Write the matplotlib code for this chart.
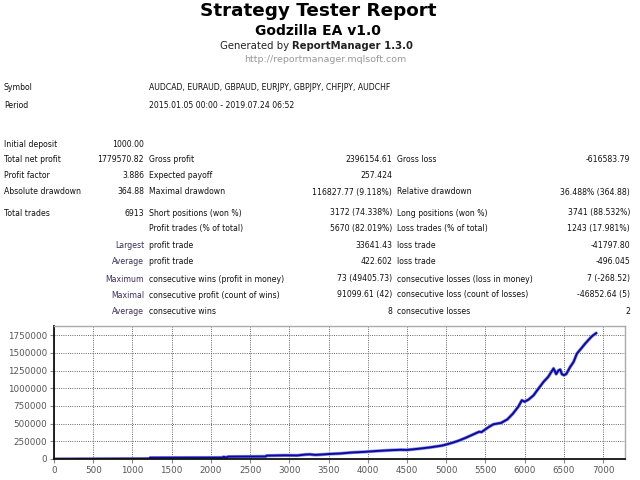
import matplotlib
matplotlib.use("Agg")
import matplotlib.pyplot as plt
from matplotlib.ticker import FuncFormatter, MultipleLocator

# ── report data ────────────────────────────────────────────────
title = "Strategy Tester Report"
ea_name = "Godzilla EA v1.0"
symbols = "AUDCAD, EURAUD, GBPAUD, EURJPY, GBPJPY, CHFJPY, AUDCHF"
period = "2015.01.05 00:00 - 2019.07.24 06:52"

# rows: (y px, col1 label, col1 value, col2 label, col2 value, col3 label, col3 value)
rows = [
    (145, "Initial deposit", "1000.00", "", "", "", ""),
    (160, "Total net profit", "1779570.82", "Gross profit", "2396154.61", "Gross loss", "-616583.79"),
    (176, "Profit factor", "3.886", "Expected payoff", "257.424", "", ""),
    (192, "Absolute drawdown", "364.88", "Maximal drawdown", "116827.77 (9.118%)", "Relative drawdown", "36.488% (364.88)"),
    (213, "Total trades", "6913", "Short positions (won %)", "3172 (74.338%)", "Long positions (won %)", "3741 (88.532%)"),
    (229, "", "", "Profit trades (% of total)", "5670 (82.019%)", "Loss trades (% of total)", "1243 (17.981%)"),
]
sub_rows = [
    (246, "Largest", "profit trade", "33641.43", "loss trade", "-41797.80"),
    (262, "Average", "profit trade", "422.602", "loss trade", "-496.045"),
    (279, "Maximum", "consecutive wins (profit in money)", "73 (49405.73)", "consecutive losses (loss in money)", "7 (-268.52)"),
    (295, "Maximal", "consecutive profit (count of wins)", "91099.61 (42)", "consecutive loss (count of losses)", "-46852.64 (5)"),
    (311, "Average", "consecutive wins", "8", "consecutive losses", "2"),
]

# balance curve
trades = [0, 1220, 1225, 2150, 2160, 2200, 2220, 2700, 2710, 2950, 3100, 3200,
          3260, 3330, 3400, 3500, 3650, 3800, 3950, 4100, 4300, 4420, 4500,
          4650, 4800, 4950, 5050, 5150, 5250, 5350, 5420, 5450, 5540, 5600,
          5700, 5780, 5850, 5920, 5965, 6000, 6050, 6114, 6180, 6241, 6300,
          6369, 6390, 6403, 6430, 6454, 6475, 6500, 6530, 6580, 6624, 6667,
          6720, 6773, 6820, 6858, 6913]
balance = [1000, 5000, 18000, 20000, 30000, 22000, 33000, 36000, 47000, 52000,
           50000, 62000, 66000, 58000, 62000, 70000, 78000, 92000, 100000,
           112000, 125000, 130000, 128000, 145000, 165000, 190000, 220000,
           255000, 300000, 350000, 385000, 380000, 450000, 490000, 510000,
           560000, 640000, 740000, 830000, 810000, 840000, 900000, 1000000,
           1090000, 1160000, 1280000, 1230000, 1200000, 1250000, 1265000,
           1200000, 1185000, 1200000, 1300000, 1372000, 1490000, 1560000,
           1632000, 1690000, 1735000, 1779570]

# ── layout helpers ─────────────────────────────────────────────
W, H = 640, 480
FONT = "DejaVu Sans"
FS = 5.6
TXT, SUB, GREY = "#111111", "#3b2d5a", "#999999"

fig = plt.figure(figsize=(W / 100, H / 100), dpi=100)
fig.patch.set_facecolor("white")

def put(x, y, s, ha="left", **kw):
    kw.setdefault("fontsize", FS)
    kw.setdefault("color", TXT)
    kw.setdefault("family", FONT)
    fig.text(x / W, 1 - y / H, s, ha=ha, va="center", **kw)

# header
put(318, 11, title, ha="center", fontsize=13.2, fontweight="bold", color="black")
put(318, 31, ea_name, ha="center", fontsize=10.0, fontweight="bold", color="black")
put(292, 46, "Generated by ", ha="right", fontsize=7.3, color="#222222")
put(292, 46, "ReportManager 1.3.0", fontsize=7.3, fontweight="bold", color="#222222")
put(325, 60, "http://reportmanager.mqlsoft.com", ha="center", fontsize=6.8, color=GREY)

put(4, 88, "Symbol")
put(149, 88, symbols)
put(4, 105, "Period")
put(149, 105, period)

for y, l1, v1, l2, v2, l3, v3 in rows:
    put(4, y, l1)
    put(144, y, v1, ha="right")
    put(149, y, l2)
    put(392, y, v2, ha="right")
    put(397, y, l3)
    put(630, y, v3, ha="right")

for y, lead, l2, v2, l3, v3 in sub_rows:
    put(144, y, lead, ha="right", color=SUB)
    put(149, y, l2)
    put(392, y, v2, ha="right")
    put(397, y, l3)
    put(630, y, v3, ha="right")

# ── balance chart ──────────────────────────────────────────────
ax = fig.add_axes([54 / W, 1 - 459 / H, (625 - 54) / W, (459 - 326) / H])
ax.plot(trades, balance, color="#8f8fd8", lw=2.4, solid_capstyle="round")
ax.plot(trades, balance, color="#0a0aa8", lw=1.4)
ax.set_xlim(0, 7280)
ax.set_ylim(0, 1880000)
ax.xaxis.set_major_locator(MultipleLocator(500))
ax.yaxis.set_major_locator(MultipleLocator(250000))
ax.yaxis.set_major_formatter(FuncFormatter(lambda v, p: f"{int(v)}"))
ax.grid(True, color="#666666", linestyle=(0, (1.0, 1.3)), linewidth=0.7)
ax.tick_params(labelsize=6.3, labelcolor="#555555", color="#888888",
               length=3, width=0.8, pad=2)
for t in ax.get_xticklabels() + ax.get_yticklabels():
    t.set_family(FONT)
for side in ("left", "bottom"):
    ax.spines[side].set_color("#111111")
    ax.spines[side].set_linewidth(1.3)
for side in ("top", "right"):
    ax.spines[side].set_color("#aaaaaa")
    ax.spines[side].set_linewidth(1.0)

fig.savefig("out.png", dpi=100)
